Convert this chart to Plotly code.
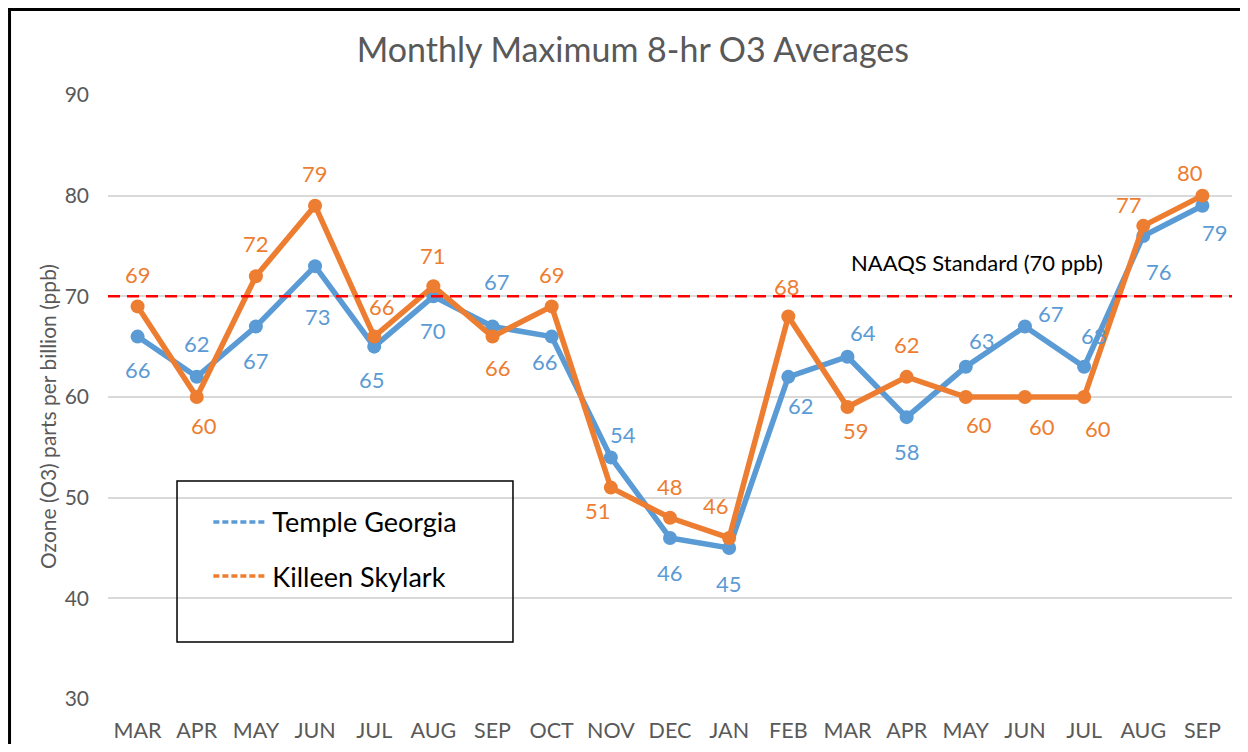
import plotly.graph_objects as go

months = ["MAR", "APR", "MAY", "JUN", "JUL", "AUG", "SEP", "OCT", "NOV", "DEC",
          "JAN", "FEB", "MAR", "APR", "MAY", "JUN", "JUL", "AUG", "SEP"]
temple = [66, 62, 67, 73, 65, 70, 67, 66, 54, 46, 45, 62, 64, 58, 63, 67, 63, 76, 79]
killeen = [69, 60, 72, 79, 66, 71, 66, 69, 51, 48, 46, 68, 59, 62, 60, 60, 60, 77, 80]
naaqs = 70
y_ticks = [30, 40, 50, 60, 70, 80, 90]

# data-label pixel offsets (dx, dy) from each point (styling only)
temple_label_offsets = [(0, -33), (0, 33), (0, -34), (3, -50), (-2, -33), (0, -34), (4, 45),
                        (-7, -25), (12, 23), (0, -35), (0, -35), (13, -29), (16, 24), (0, -34),
                        (16, 26), (26, 13), (10, 31), (16, -36), (13, -27)]
killeen_label_offsets = [(0, 32), (7, -28), (0, 33), (0, 32), (8, 30), (0, 31), (5, -31),
                         (0, 32), (-13, -23), (0, 31), (-13, 32), (-1, 30), (9, -23), (0, 32),
                         (13, -27), (17, -29), (14, -31), (-14, 21), (-12, 23)]

BLUE = "#5B9BD5"
ORANGE = "#ED7D31"
GRAY = "#595959"
FONT = "Lato"

x = list(range(len(months)))

fig = go.Figure()
for name, vals, offs, col in [("Temple Georgia", temple, temple_label_offsets, BLUE),
                              ("Killeen Skylark", killeen, killeen_label_offsets, ORANGE)]:
    fig.add_trace(go.Scatter(
        x=x, y=vals, mode="lines+markers", name=name,
        line=dict(color=col, width=5.5), marker=dict(color=col, size=14),
        showlegend=False, cliponaxis=False))
    for xi, v, (dx, dy) in zip(x, vals, offs):
        fig.add_annotation(x=xi, y=v, xref="x", yref="y", text=str(v), showarrow=False,
                           xshift=dx, yshift=dy, xanchor="center", yanchor="middle",
                           font=dict(color=col, size=22, family=FONT))

# legend entries (dashed line style, as in the reference legend)
fig.add_trace(go.Scatter(x=[None], y=[None], mode="lines", name="Temple Georgia",
                         line=dict(color=BLUE, width=3.5, dash="6px,3px"), legendgroup="a"))
fig.add_trace(go.Scatter(x=[None], y=[None], mode="lines", name="Killeen Skylark",
                         line=dict(color=ORANGE, width=3.5, dash="6px,3px"), legendgroup="b"))

# NAAQS standard line
fig.add_shape(type="line", xref="paper", yref="y", x0=0, x1=1, y0=naaqs, y1=naaqs,
              line=dict(color="#FF0000", width=2.5, dash="12px,7px"))
fig.add_annotation(xref="paper", yref="y", x=0.773, y=73.4, text="NAAQS Standard (70 ppb)",
                   showarrow=False, xanchor="center", yanchor="middle",
                   font=dict(color="black", size=22, family=FONT))

# y-axis title
fig.add_annotation(xref="paper", yref="paper", x=-0.0543, y=0.4685,
                   text="Ozone (O3) parts per billion (ppb)", textangle=-90, showarrow=False,
                   xanchor="center", yanchor="middle",
                   font=dict(size=21, color=GRAY, family=FONT))

# legend box
fig.add_shape(type="rect", xref="paper", yref="paper", x0=0.0614, x1=0.3603, y0=0.0944, y1=0.3609,
              line=dict(color="black", width=1.5), fillcolor="rgba(0,0,0,0)", layer="above")
# outer frame (left and top edges)
fig.add_shape(type="line", xref="paper", yref="paper", x0=-0.0876, x1=-0.0876, y0=-0.2, y1=1.2,
              line=dict(color="black", width=3))
fig.add_shape(type="line", xref="paper", yref="paper", x0=-0.1, x1=1.1, y0=1.1415, y1=1.1415,
              line=dict(color="black", width=3))

fig.update_layout(
    width=1232, height=736,
    margin=dict(l=100, r=8, t=87, b=45),
    paper_bgcolor="white", plot_bgcolor="white",
    font=dict(family=FONT, color=GRAY),
    title=dict(text="Monthly Maximum 8-hr O3 Averages", x=0.467, xref="paper",
               y=1 - 42 / 736, yref="container", xanchor="center", yanchor="middle",
               font=dict(size=34, color=GRAY, family=FONT)),
    xaxis=dict(tickmode="array", tickvals=x, ticktext=months, range=[-0.5, len(months) - 0.5],
               showgrid=False, zeroline=False, showline=False, ticks="", ticklabelstandoff=16,
               automargin=False,
               tickfont=dict(size=21.5, color=GRAY, family=FONT)),
    yaxis=dict(range=[30, 90], tickvals=y_ticks, showgrid=True, gridcolor="#D9D9D9", gridwidth=2,
               zeroline=False, showline=False, ticks="", ticklabelstandoff=18, automargin=False,
               tickfont=dict(size=21, color=GRAY, family=FONT)),
    legend=dict(x=0.0893, y=0.333, xanchor="left", yanchor="top", bgcolor="rgba(0,0,0,0)",
                borderwidth=0, tracegroupgap=16, itemwidth=54,
                font=dict(size=27, color="black", family=FONT)),
)

fig.write_html("out.html")
